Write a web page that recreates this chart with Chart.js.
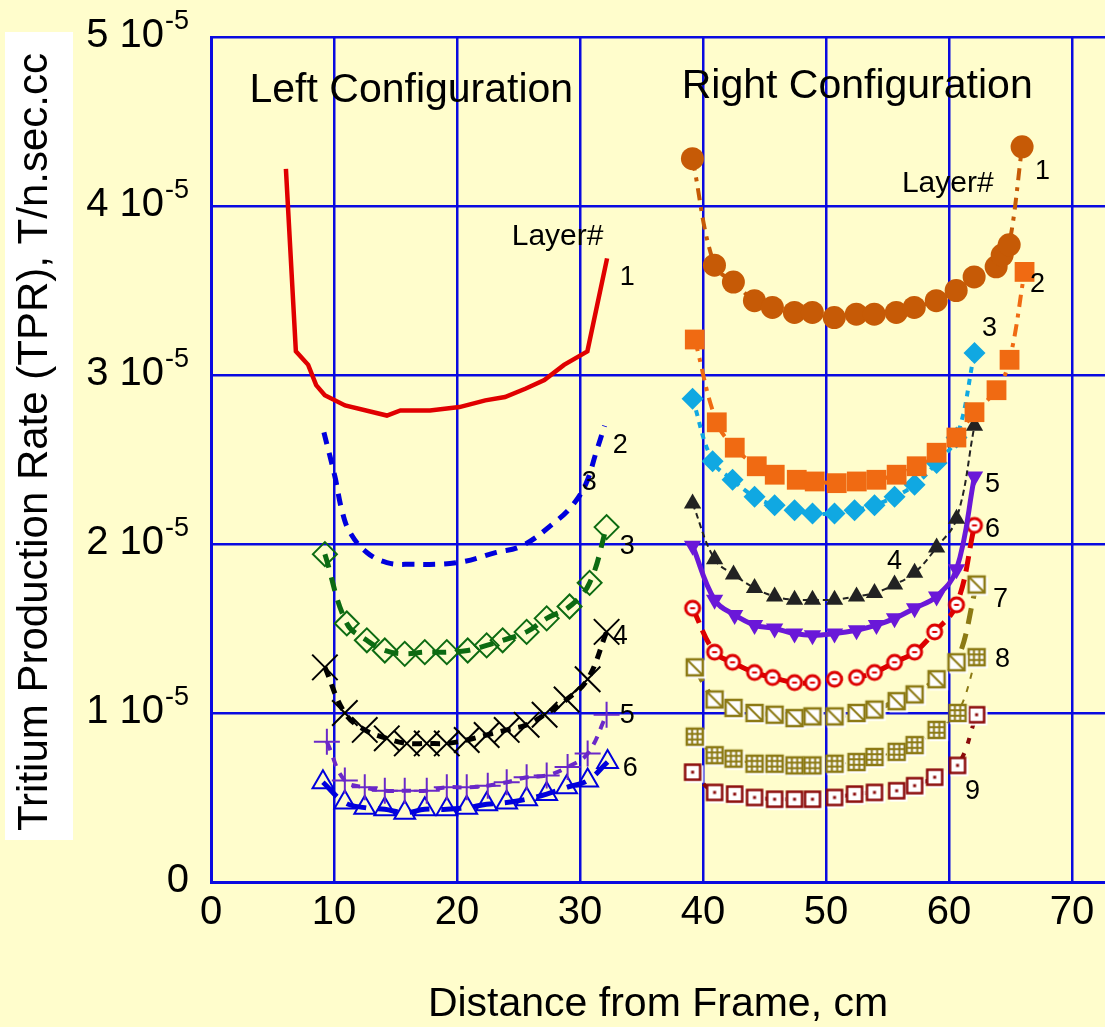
<!DOCTYPE html>
<html><head><meta charset="utf-8">
<script src="https://cdn.jsdelivr.net/npm/chart.js@4.4.1/dist/chart.umd.min.js"></script>
<style>html,body{margin:0;padding:0;background:#fffdcc;}canvas{display:block;}</style>
</head><body>
<canvas id="c" width="1105" height="1027"></canvas>
<script>
const FONT = '"Liberation Sans", Arial, Helvetica, sans-serif';

// ---- Axis / tick texts ----
const xTitle = 'Distance from Frame, cm';
const yTitle = 'Tritium Production Rate (TPR), T/n.sec.cc';
const yTickValues = [0, 1, 2, 3, 4, 5];      // in units of 10^-5
const yExponent = '-5';

// ---- Left configuration (x in cm, TPR in 10^-5 T/n.sec.cc) ----
const left1X = [6.09, 6.9, 7.9, 8.55, 9.25, 10.9, 14.3, 15.4, 17.8, 20.2, 22.3, 23.9, 25.6, 27.1, 28.7, 30.6, 32.2];
const left1Y = [4.22, 3.14, 3.06, 2.94, 2.88, 2.82, 2.76, 2.79, 2.79, 2.81, 2.85, 2.87, 2.92, 2.97, 3.06, 3.14, 3.69];
const left2X = [9.18, 10.07, 10.64, 11.29, 12.67, 14.3, 16.2, 20.0, 23.2, 25.3, 27.8, 29.4, 30.5, 31.3, 32.0];
const left2Y = [2.66, 2.40, 2.20, 2.07, 1.95, 1.89, 1.88, 1.89, 1.95, 1.99, 2.12, 2.23, 2.36, 2.54, 2.70];
const left3X = [9.26, 11.04, 12.67, 14.13, 15.75, 17.38, 19.17, 20.87, 22.41, 23.71, 25.66, 27.29, 29.15, 30.78, 32.16];
const left3Y = [1.94, 1.53, 1.43, 1.37, 1.35, 1.36, 1.36, 1.37, 1.40, 1.43, 1.48, 1.56, 1.63, 1.77, 2.10];
const left4X = [9.26, 10.88, 12.5, 14.29, 15.92, 17.54, 19.17, 20.79, 22.41, 24.04, 25.66, 27.12, 28.91, 30.62, 32.16];
const left4Y = [1.27, 1.00, 0.90, 0.85, 0.82, 0.82, 0.82, 0.84, 0.87, 0.90, 0.93, 0.99, 1.08, 1.20, 1.48];
const left5X = [9.42, 10.88, 12.5, 14.13, 15.75, 17.54, 19.17, 20.79, 22.5, 24.04, 25.66, 27.29, 28.99, 30.62, 32.16];
const left5Y = [0.83, 0.60, 0.56, 0.54, 0.54, 0.54, 0.56, 0.56, 0.57, 0.59, 0.62, 0.63, 0.68, 0.76, 0.99];
const left6X = [9.1, 10.88, 12.5, 14.13, 15.75, 17.38, 19.17, 20.79, 22.41, 24.04, 25.66, 27.29, 28.91, 30.62, 32.24];
const left6Y = [0.59, 0.47, 0.44, 0.43, 0.41, 0.43, 0.43, 0.44, 0.46, 0.47, 0.49, 0.52, 0.56, 0.60, 0.71];

// ---- Right configuration ----
const right1X = [39.14, 40.93, 42.47, 44.18, 45.64, 47.43, 48.89, 50.67, 52.46, 53.92, 55.71, 57.17, 58.96, 60.58, 62.04, 63.83, 64.32, 64.89, 65.94];
const right1Y = [4.28, 3.65, 3.55, 3.44, 3.40, 3.37, 3.37, 3.34, 3.36, 3.36, 3.37, 3.40, 3.44, 3.50, 3.58, 3.64, 3.71, 3.77, 4.35];
const right2X = [39.33, 41.12, 42.58, 44.37, 45.83, 47.62, 49.08, 50.87, 52.5, 54.1, 55.74, 57.37, 58.99, 60.6, 62.07, 63.86, 64.92, 66.14];
const right2Y = [3.21, 2.72, 2.57, 2.46, 2.41, 2.38, 2.37, 2.36, 2.37, 2.38, 2.41, 2.46, 2.54, 2.63, 2.78, 2.91, 3.09, 3.61];
const right3X = [39.15, 40.78, 42.4, 44.19, 45.82, 47.44, 48.9, 50.69, 52.32, 53.94, 55.57, 57.2, 58.99, 60.61, 62.07];
const right3Y = [2.86, 2.49, 2.38, 2.28, 2.23, 2.20, 2.18, 2.18, 2.20, 2.23, 2.28, 2.35, 2.48, 2.63, 3.13];
const right4X = [39.15, 40.94, 42.48, 44.19, 45.82, 47.44, 48.9, 50.69, 52.48, 53.94, 55.57, 57.2, 58.99, 60.61, 62.07];
const right4Y = [2.24, 1.91, 1.82, 1.74, 1.69, 1.67, 1.67, 1.67, 1.69, 1.71, 1.76, 1.83, 1.98, 2.15, 2.70];
const right5X = [39.15, 40.94, 42.57, 44.19, 45.82, 47.44, 48.9, 50.69, 52.48, 54.1, 55.57, 57.2, 58.99, 60.61, 62.07];
const right5Y = [1.99, 1.67, 1.58, 1.52, 1.50, 1.47, 1.46, 1.47, 1.49, 1.52, 1.56, 1.62, 1.69, 1.85, 2.40];
const right6X = [39.15, 40.94, 42.4, 44.19, 45.65, 47.44, 48.9, 50.69, 52.48, 53.94, 55.57, 57.2, 58.83, 60.61, 62.07];
const right6Y = [1.62, 1.36, 1.30, 1.24, 1.21, 1.18, 1.18, 1.20, 1.21, 1.24, 1.30, 1.36, 1.48, 1.64, 2.11];
const right7X = [39.33, 40.94, 42.48, 44.19, 45.82, 47.44, 48.9, 50.69, 52.48, 53.94, 55.74, 57.2, 58.99, 60.61, 62.24];
const right7Y = [1.27, 1.08, 1.03, 1.00, 0.99, 0.97, 0.98, 0.98, 1.00, 1.02, 1.07, 1.11, 1.20, 1.30, 1.76];
const right8X = [39.33, 40.94, 42.48, 44.19, 45.82, 47.44, 48.9, 50.69, 52.48, 53.94, 55.74, 57.2, 58.99, 60.69, 62.24];
const right8Y = [0.86, 0.75, 0.73, 0.70, 0.70, 0.69, 0.69, 0.70, 0.71, 0.74, 0.77, 0.81, 0.90, 1.00, 1.33];
const right9X = [39.15, 40.94, 42.57, 44.19, 45.82, 47.44, 48.9, 50.69, 52.32, 53.94, 55.74, 57.2, 58.83, 60.69, 62.24];
const right9Y = [0.65, 0.53, 0.52, 0.50, 0.49, 0.49, 0.49, 0.50, 0.52, 0.53, 0.54, 0.57, 0.62, 0.69, 0.99];

// ---- Text annotations (anchored in data coordinates) ----
const notes = [
  { text: 'Left Configuration',  x: 3.13,  y: 4.615, size: 41 },
  { text: 'Right Configuration', x: 38.27, y: 4.64,  size: 41 },
  { text: 'Layer#', x: 24.45, y: 3.77, size: 30 },
  { text: 'Layer#', x: 56.17, y: 4.08, size: 30 },
  { text: '1', x: 33.23, y: 3.53, size: 27 },
  { text: '2', x: 32.66, y: 2.54, size: 27 },
  { text: '3', x: 30.15, y: 2.32, size: 27 },
  { text: '3', x: 33.23, y: 1.94, size: 27 },
  { text: '4', x: 32.66, y: 1.41, size: 27 },
  { text: '5', x: 33.23, y: 0.94, size: 27 },
  { text: '6', x: 33.47, y: 0.63, size: 27 },
  { text: '1', x: 66.99, y: 4.16, size: 27 },
  { text: '2', x: 66.58, y: 3.49, size: 27 },
  { text: '3', x: 62.68, y: 3.23, size: 27 },
  { text: '4', x: 54.95, y: 1.85, size: 27 },
  { text: '5', x: 62.92, y: 2.31, size: 27 },
  { text: '6', x: 62.92, y: 2.04, size: 27 },
  { text: '7', x: 63.57, y: 1.63, size: 27 },
  { text: '8', x: 63.74, y: 1.27, size: 27 },
  { text: '9', x: 61.29, y: 0.49, size: 27 }
];

function pts(xs, ys) { return xs.map((x, i) => ({ x: x, y: ys[i] })); }

function marker(kind, color) {
  const s = 26, c = document.createElement('canvas');
  c.width = s; c.height = s;
  const g = c.getContext('2d'), m = s / 2;
  if (kind === 'circleDash') {
    g.beginPath(); g.arc(m, m, 7, 0, Math.PI * 2);
    g.fillStyle = '#ffffff'; g.fill();
    g.lineWidth = 3; g.strokeStyle = color; g.stroke();
    g.fillStyle = color; g.fillRect(m - 2.5, m - 1, 5, 2);
    return c;
  }
  const h = kind === 'boxDot' ? 7.5 : 8;
  g.strokeStyle = '#ffffff'; g.lineWidth = 2.5;
  g.strokeRect(m - h + 2, m - h + 2, 2 * h, 2 * h);
  g.fillStyle = '#ffffff'; g.fillRect(m - h, m - h, 2 * h, 2 * h);
  g.strokeStyle = color; g.lineWidth = 2.5;
  g.strokeRect(m - h, m - h, 2 * h, 2 * h);
  g.beginPath(); g.lineWidth = 2;
  if (kind === 'boxDiag') { g.moveTo(m - h, m - h); g.lineTo(m + h, m + h); }
  if (kind === 'boxGrid') {
    const a = m - h + 2 * h / 3, b = m - h + 4 * h / 3;
    g.moveTo(a, m - h); g.lineTo(a, m + h); g.moveTo(b, m - h); g.lineTo(b, m + h);
    g.moveTo(m - h, a); g.lineTo(m + h, a); g.moveTo(m - h, b); g.lineTo(m + h, b);
  }
  g.stroke();
  if (kind === 'boxDot') { g.fillStyle = color; g.fillRect(m - 1.5, m - 1.5, 3, 3); }
  return c;
}

function ds(label, xs, ys, o) {
  return Object.assign({
    label: label, data: pts(xs, ys), fill: false, tension: 0.4,
    borderWidth: 4, pointRadius: 0, pointBorderWidth: 2, pointHoverRadius: 0
  }, o);
}

const NONE = 'rgba(0,0,0,0)';
const datasets = [
  ds('Left layer 1', left1X, left1Y, { borderColor: '#e00000', tension: 0, borderWidth: 4.5 }),
  ds('Left layer 2', left2X, left2Y, { borderColor: '#0000dd', borderWidth: 5, borderDash: [12, 9] }),
  ds('Left layer 3', left3X, left3Y, { borderColor: '#0d6b12', borderWidth: 5, borderDash: [14, 10],
      pointStyle: 'rectRot', pointRadius: 12, pointBackgroundColor: NONE, pointBorderColor: '#0d6b12', pointBorderWidth: 2 }),
  ds('Left layer 4', left4X, left4Y, { borderColor: '#000000', borderWidth: 5, borderDash: [10, 8],
      pointStyle: 'crossRot', pointRadius: 18, pointBorderColor: '#000000', pointBorderWidth: 2 }),
  ds('Left layer 5', left5X, left5Y, { borderColor: '#6a28c8', borderWidth: 4, borderDash: [9, 8],
      pointStyle: 'cross', pointRadius: 13, pointBorderColor: '#6a28c8', pointBorderWidth: 2 }),
  ds('Left layer 6', left6X, left6Y, { borderColor: '#0000dd', borderWidth: 5, borderDash: [20, 12],
      pointStyle: 'triangle', pointRadius: 12, pointBackgroundColor: NONE, pointBorderColor: '#0000dd', pointBorderWidth: 2 }),
  ds('Right layer 1', right1X, right1Y, { borderColor: '#c65a06', borderWidth: 4, borderDash: [12, 7, 4, 7],
      pointStyle: 'circle', pointRadius: 11.5, pointBackgroundColor: '#c65a06', pointBorderColor: '#c65a06', pointBorderWidth: 0 }),
  ds('Right layer 2', right2X, right2Y, { borderColor: '#f06a12', borderWidth: 4, borderDash: [12, 7, 4, 7],
      pointStyle: 'rect', pointRadius: 14, pointBackgroundColor: '#f06a12', pointBorderColor: '#f06a12', pointBorderWidth: 0 }),
  ds('Right layer 3', right3X, right3Y, { borderColor: '#10a8e2', borderWidth: 4, borderDash: [6, 6],
      pointStyle: 'rectRot', pointRadius: 11, pointBackgroundColor: '#10a8e2', pointBorderColor: '#10a8e2', pointBorderWidth: 0 }),
  ds('Right layer 4', right4X, right4Y, { borderColor: '#222222', borderWidth: 2, borderDash: [6, 4],
      pointStyle: 'triangle', pointRadius: 10, pointBackgroundColor: '#222222', pointBorderColor: '#222222', pointBorderWidth: 0 }),
  ds('Right layer 5', right5X, right5Y, { borderColor: '#6a18d8', borderWidth: 5,
      pointStyle: 'triangle', pointRotation: 180, pointRadius: 10, pointBackgroundColor: '#6a18d8', pointBorderColor: '#6a18d8', pointBorderWidth: 0 }),
  ds('Right layer 6', right6X, right6Y, { borderColor: '#dd0000', borderWidth: 5, borderDash: [16, 8],
      pointStyle: marker('circleDash', '#dd0000'), pointRadius: 9 }),
  ds('Right layer 7', right7X, right7Y, { borderColor: '#8c7a14', borderWidth: 5, borderDash: [16, 10],
      pointStyle: marker('boxDiag', '#8c7a14'), pointRadius: 9 }),
  ds('Right layer 8', right8X, right8Y, { borderColor: '#8c7a14', borderWidth: 2, borderDash: [6, 8],
      pointStyle: marker('boxGrid', '#8c7a14'), pointRadius: 9 }),
  ds('Right layer 9', right9X, right9Y, { borderColor: '#8b0a0a', borderWidth: 4, borderDash: [6, 10],
      pointStyle: marker('boxDot', '#8b0a0a'), pointRadius: 9 })
];

const GRID = '#0a0ae0';

const decor = {
  id: 'decor',
  beforeDraw(chart) {
    const ctx = chart.ctx;
    ctx.save();
    ctx.fillStyle = '#fffdcc';
    ctx.fillRect(0, 0, chart.width, chart.height);
    ctx.fillStyle = '#ffffff';
    ctx.fillRect(5, 32, 68, 808);
    ctx.restore();
  },
  afterDraw(chart) {
    const ctx = chart.ctx, xs = chart.scales.x, ys = chart.scales.y;
    ctx.save();
    ctx.fillStyle = '#000000';
    // y tick labels with superscript exponent
    ctx.textBaseline = 'alphabetic';
    yTickValues.forEach(v => {
      const py = ys.getPixelForValue(v);
      const right = 189;
      if (v === 0) {
        ctx.font = '40px ' + FONT; ctx.textAlign = 'right';
        ctx.fillText('0', right, py + 10);
        return;
      }
      ctx.font = '27px ' + FONT; ctx.textAlign = 'right';
      ctx.fillText(yExponent, right, py - 8);
      const w = ctx.measureText(yExponent).width;
      ctx.font = '40px ' + FONT;
      ctx.fillText(v + ' 10', right - w - 1, py + 10);
    });
    // y axis title (rotated)
    ctx.save();
    ctx.translate(35, 442);
    ctx.rotate(-Math.PI / 2);
    ctx.font = '42px ' + FONT; ctx.textAlign = 'center'; ctx.textBaseline = 'middle';
    ctx.fillText(yTitle, 0, 0);
    ctx.restore();
    // annotations
    ctx.textAlign = 'left'; ctx.textBaseline = 'alphabetic';
    notes.forEach(n => {
      ctx.font = n.size + 'px ' + FONT;
      ctx.fillText(n.text, xs.getPixelForValue(n.x), ys.getPixelForValue(n.y));
    });
    ctx.restore();
  }
};

new Chart(document.getElementById('c'), {
  type: 'line',
  data: { datasets: datasets },
  plugins: [decor],
  options: {
    responsive: false, animation: false, devicePixelRatio: 1,
    layout: { autoPadding: false, padding: { top: 37, right: 0, bottom: 0, left: 0 } },
    plugins: { legend: { display: false }, tooltip: { enabled: false } },
    elements: { line: { borderCapStyle: 'butt' } },
    scales: {
      x: {
        type: 'linear', min: 0, max: 72.68,
        afterFit(s) { s.height = 145; s.paddingRight = 0; s.paddingLeft = 0; },
        ticks: { stepSize: 10, includeBounds: false, padding: 7, color: '#000',
                 font: { family: FONT, size: 40, lineHeight: 1.2 } },
        grid: { color: GRID, lineWidth: 2.5, drawTicks: false },
        border: { display: true, color: GRID, width: 3 },
        title: { display: true, text: xTitle, color: '#000', padding: { top: 0, bottom: 0 },
                 font: { family: FONT, size: 41, lineHeight: 1.1 } }
      },
      y: {
        type: 'linear', min: 0, max: 5,
        afterFit(s) { s.width = 211; s.paddingTop = 0; s.paddingBottom = 0; },
        ticks: { stepSize: 1, display: false },
        grid: { color: GRID, lineWidth: 2.5, drawTicks: false },
        border: { display: true, color: GRID, width: 3 },
        title: { display: false }
      }
    }
  }
});
</script>
</body></html>
